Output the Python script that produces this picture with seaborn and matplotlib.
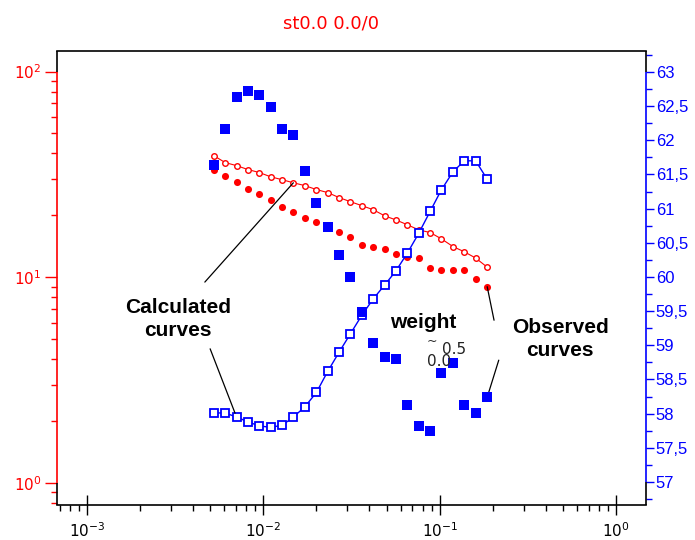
import matplotlib
matplotlib.use('Agg')
import matplotlib.pyplot as plt
import seaborn as sns
from matplotlib.ticker import FixedLocator, NullFormatter, LogLocator, MultipleLocator

# ---- data ----
x_vals = [0.00524, 0.00608, 0.00705, 0.00818, 0.00949, 0.0110, 0.0128, 0.0148,
          0.0172, 0.0200, 0.0232, 0.0269, 0.0312, 0.0362, 0.0420, 0.0487,
          0.0565, 0.0656, 0.0761, 0.0883, 0.102, 0.119, 0.138, 0.160, 0.186]
red_calc = [39.0, 36.1, 34.9, 33.4, 32.3, 30.8, 29.8, 28.8, 27.9, 26.7, 25.8, 24.4,
            23.3, 22.3, 21.3, 19.9, 19.0, 18.0, 17.0, 16.5, 15.4, 14.1, 13.3, 12.4, 11.2]
red_obs = [33.4, 31.2, 29.2, 27.0, 25.5, 23.8, 22.0, 20.8, 19.5, 18.6, 17.6, 16.6,
           15.7, 14.4, 14.1, 13.8, 13.0, 12.6, 12.4, 11.1, 10.9, 10.9, 10.9, 9.8, 9.0]
blue_calc = [58.01, 58.01, 57.95, 57.88, 57.82, 57.80, 57.83, 57.95, 58.10, 58.31,
             58.62, 58.90, 59.17, 59.44, 59.68, 59.88, 60.09, 60.35, 60.64, 60.96,
             61.27, 61.54, 61.70, 61.70, 61.43]
blue_obs = [61.64, 62.17, 62.63, 62.72, 62.66, 62.49, 62.17, 62.08, 61.55, 61.08,
            60.73, 60.32, 60.00, 59.49, 59.03, 58.83, 58.80, 58.12, 57.82, 57.74,
            58.59, 58.74, 58.12, 58.01, 58.24]

x_ticks = [1e-3, 1e-2, 1e-1, 1e0]
x_labels = ['$10^{-3}$', '$10^{-2}$', '$10^{-1}$', '$10^{0}$']
left_ticks = [1, 10, 100]
left_labels = ['$10^{0}$', '$10^{1}$', '$10^{2}$']
right_ticks = [57, 57.5, 58, 58.5, 59, 59.5, 60, 60.5, 61, 61.5, 62, 62.5, 63]
right_labels = ['57', '57,5', '58', '58,5', '59', '59,5', '60', '60,5',
                '61', '61,5', '62', '62,5', '63']
title_text = 'st0.0 0.0/0'

# ---- style ----
sns.set_style('ticks')
plt.rcParams['font.family'] = ['Liberation Sans', 'DejaVu Sans']

fig = plt.figure(figsize=(6.95, 5.4), dpi=100)
ax = fig.add_axes([57 / 695, 1 - 505 / 540, 589 / 695, 454 / 540])
ax.set_xscale('log')
ax.set_yscale('log')
ax2 = ax.twinx()

# red (left, log) axis
sns.lineplot(x=x_vals, y=red_calc, ax=ax, color='red', lw=0.8, marker='o',
             markersize=4, markerfacecolor='white', markeredgecolor='red',
             markeredgewidth=1, zorder=3)
sns.scatterplot(x=x_vals, y=red_obs, ax=ax, color='red', marker='o', s=26,
                linewidth=0, zorder=3)

# blue (right, linear) axis
sns.lineplot(x=x_vals, y=blue_calc, ax=ax2, color='blue', lw=1.0, marker='s',
             markersize=5.5, markerfacecolor='white', markeredgecolor='blue',
             markeredgewidth=1.3, zorder=3)
sns.scatterplot(x=x_vals, y=blue_obs, ax=ax2, color='blue', marker='s', s=55,
                linewidth=0, zorder=4)

ylim_left = (10 ** -0.107, 10 ** 2.10)
ylim_right = (56.663, 63.307)
ax.set_xlim(10 ** -3.17, 10 ** 0.17)
ax.set_ylim(*ylim_left)
ax2.set_ylim(*ylim_right)
ax.set_xlabel('')
ax.set_ylabel('')
ax2.set_ylabel('')

# x ticks
ax.xaxis.set_major_locator(FixedLocator(x_ticks))
ax.set_xticklabels(x_labels)
ax.xaxis.set_minor_locator(LogLocator(base=10, subs=range(2, 10)))
ax.xaxis.set_minor_formatter(NullFormatter())
ax.tick_params(axis='x', which='major', direction='inout', length=14, width=1,
               colors='black', labelsize=11, pad=5, bottom=True, top=False)
ax.tick_params(axis='x', which='minor', direction='out', length=4, width=1,
               colors='black', bottom=True, top=False)

# left y ticks
ax.yaxis.set_major_locator(FixedLocator(left_ticks))
ax.set_yticklabels(left_labels)
ax.yaxis.set_minor_locator(LogLocator(base=10, subs=range(2, 10)))
ax.yaxis.set_minor_formatter(NullFormatter())
ax.tick_params(axis='y', which='major', direction='out', length=9, width=1,
               colors='red', labelsize=11, pad=2, left=True, right=False)
ax.tick_params(axis='y', which='minor', direction='out', length=4, width=1,
               colors='red', left=True, right=False)

# right y ticks
ax2.yaxis.set_major_locator(FixedLocator(right_ticks))
ax2.set_yticklabels(right_labels)
ax2.yaxis.set_minor_locator(MultipleLocator(0.25))
ax2.tick_params(axis='y', which='major', direction='out', length=6, width=1,
                colors='blue', labelsize=12, pad=1, right=True, left=False)
ax2.tick_params(axis='y', which='minor', direction='out', length=4, width=1,
                colors='blue', right=True, left=False)

# spines: top/bottom black; left/right drawn as coloured + black segments
for name in ('top', 'bottom'):
    ax.spines[name].set_color('black')
    ax.spines[name].set_linewidth(1.2)
ax.spines['left'].set_visible(False)
ax.spines['right'].set_visible(False)
for s in ax2.spines.values():
    s.set_visible(False)

skw = dict(lw=1.2, clip_on=False, zorder=5, solid_capstyle='butt')
ytl = ax.get_yaxis_transform()
ax.plot([0, 0], [ylim_left[0], left_ticks[0]], transform=ytl, color='black', **skw)
ax.plot([0, 0], [left_ticks[0], left_ticks[-1]], transform=ytl, color='red', **skw)
ax.plot([0, 0], [left_ticks[-1], ylim_left[1]], transform=ytl, color='black', **skw)
ytr = ax2.get_yaxis_transform()
ax2.plot([1, 1], [ylim_right[0], right_ticks[0]], transform=ytr, color='black', **skw)
ax2.plot([1, 1], [right_ticks[0], right_ticks[-1]], transform=ytr, color='blue', **skw)
ax2.plot([1, 1], [right_ticks[-1], ylim_right[1]], transform=ytr, color='black', **skw)

# annotations
lkw = dict(arrowstyle='-', color='black', lw=0.9, shrinkA=0, shrinkB=0)
ax.annotate('', xy=(x_vals[7], red_calc[7]), xytext=(0.251, 0.491),
            textcoords='axes fraction', arrowprops=lkw)
ax2.annotate('', xy=(x_vals[2], blue_calc[2]), xytext=(0.260, 0.344),
             textcoords='axes fraction', arrowprops=dict(lkw, shrinkB=3))
ax.annotate('', xy=(x_vals[24], red_obs[24]), xytext=(0.742, 0.407),
            textcoords='axes fraction', arrowprops=lkw)
ax2.annotate('', xy=(x_vals[24], blue_obs[24]), xytext=(0.750, 0.319),
             textcoords='axes fraction', arrowprops=dict(lkw, shrinkB=2))

tkw = dict(transform=ax2.transAxes, ha='center', va='center', fontweight='bold',
           fontsize=15, color='black', linespacing=1.3, zorder=6)
ax2.text(0.205, 0.410, 'Calculated\ncurves', **tkw)
ax2.text(0.854, 0.366, 'Observed\ncurves', **tkw)
ax2.text(0.621, 0.403, 'weight', **tkw)
ax2.text(0.636, 0.360, '~', transform=ax2.transAxes, ha='center', va='center',
         fontsize=9, color='#222222', family=['DejaVu Sans'], zorder=6)
ax2.text(0.674, 0.343, '0.5', transform=ax2.transAxes, ha='center', va='center',
         fontsize=11, color='#222222', family=['DejaVu Sans'], zorder=6)
ax2.text(0.648, 0.317, '0.0', transform=ax2.transAxes, ha='center', va='center',
         fontsize=11, color='#222222', family=['DejaVu Sans'], zorder=6)

fig.text(331 / 695, 1 - 24 / 540, title_text, color='red', ha='center',
         va='center', fontsize=13, family=['DejaVu Sans'])

fig.savefig('out.png', dpi=100)
